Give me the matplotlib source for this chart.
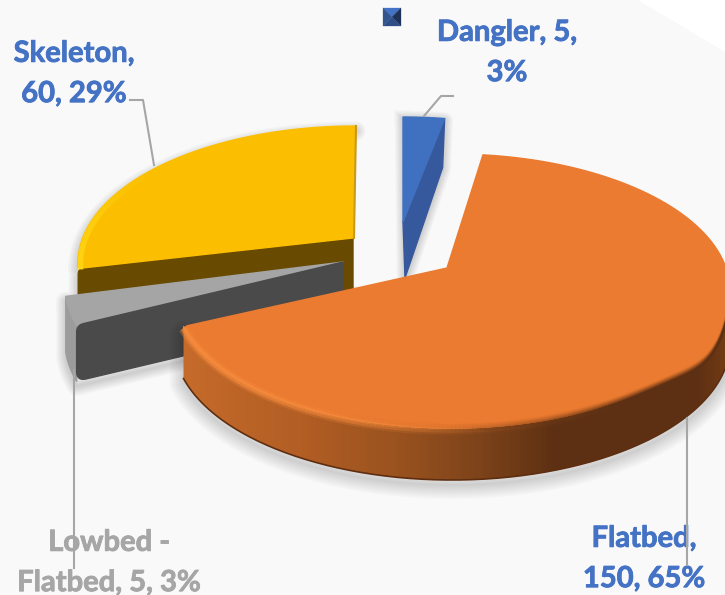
"""Exploded 3D-look pie chart of trailer types."""

import matplotlib

matplotlib.use("Agg")
import matplotlib.patheffects as pe
import matplotlib.pyplot as plt
import numpy as np
from matplotlib.collections import LineCollection
from matplotlib.colors import LinearSegmentedColormap, to_rgb
from matplotlib.patches import Polygon

CATEGORIES = ["Dangler", "Flatbed", "Lowbed - Flatbed", "Skeleton"]
VALUES = [5, 150, 5, 60]
SHARES = [3, 65, 3, 29]
LABEL_TEMPLATES = [
    "Dangler, {v},\n{p}%",
    "Flatbed,\n{v}, {p}%",
    "Lowbed -\nFlatbed, {v}, {p}%",
    "Skeleton,\n{v}, {p}%",
]

BLUE = "#4472c4"
GREY = "#a6a6a6"
BACKGROUND = "#f9f9f9"

# everything below is laid out in picture pixels
RX, RY = 278, 137
THICK = 52
TILT = 0.08j
CENTERS = [(403, 254), (452, 291), (343, 286), (356, 263)]
APEX_SHIFT = [(0, -32), (-5, -23), (0, -24), (-3, -25)]
TRIM = [(0, -0.7), (-3.3, 1.5), (0, 1.0), (3, 0)]  # degrees taken off or added at slice ends
LABEL_POS = [(507, 53), (644, 559), (109, 563), (74, 74)]
LABEL_COLORS = [BLUE, BLUE, GREY, BLUE]
LEADERS = [
    [(424, 116), (441, 96), (453, 96)],
    [(687, 418), (687, 565)],
    [(74, 370), (74, 568)],
    [(130, 100), (143, 100), (154, 165)],
]


def rim(center, theta_deg):
    """Points of the tilted circle for clockwise angles measured from north."""
    z = np.exp(1j * np.radians(90 - np.asarray(theta_deg, dtype=float)))
    w = (z + TILT) / (1 + np.conj(TILT) * z)
    return np.column_stack([center[0] + RX * w.real, center[1] - RY * w.imag])


def rounded(pts, idx, r):
    """Replace vertex idx of a closed polygon with a small curve of radius r."""
    pts = np.asarray(pts, dtype=float)
    n = len(pts)
    p, a, b = pts[idx], pts[(idx - 1) % n], pts[(idx + 1) % n]
    u = p + (a - p) / np.linalg.norm(a - p) * r
    v = p + (b - p) / np.linalg.norm(b - p) * r
    t = np.linspace(0, 1, 10)[:, None]
    curve = (1 - t) ** 2 * u + 2 * t * (1 - t) * p + t**2 * v
    return np.vstack([pts[:idx], curve, pts[idx + 1:]])


def soft_shadow(ax, pts, zorder, dy=5, spread=14):
    pts = np.vstack([pts, pts[:1]]) + [0, dy]
    for lw in np.linspace(spread, 2, 7):
        ax.plot(pts[:, 0], pts[:, 1], color="black", alpha=0.022, lw=lw, zorder=zorder,
                solid_joinstyle="round")


def face(ax, pts, color, zorder, lw=1.0):
    ax.add_patch(Polygon(pts, closed=True, facecolor=color, edgecolor=color, lw=lw,
                         joinstyle="round", zorder=zorder))


def rim_band(ax, pts, color, alphas, lw, zorder):
    segs = np.stack([pts[:-1], pts[1:]], axis=1)
    rgba = np.tile((*to_rgb(color), 1.0), (len(segs), 1))
    rgba[:, 3] = np.interp(np.linspace(0, 1, len(segs)), np.linspace(0, 1, len(alphas)), alphas)
    ax.add_collection(LineCollection(segs, colors=rgba, linewidths=lw, zorder=zorder,
                                     capstyle="butt"))


def main():
    fig = plt.figure(figsize=(7.25, 5.95), dpi=100, facecolor=BACKGROUND)
    ax = fig.add_axes([0, 0, 1, 1])
    ax.set_facecolor(BACKGROUND)
    plt.rcParams["font.family"] = ["Lato", "DejaVu Sans"]

    edges = np.cumsum([0] + SHARES) / sum(SHARES) * 360.0
    arcs = [np.linspace(edges[i] + TRIM[i][0], edges[i + 1] + TRIM[i][1], 120) for i in range(len(SHARES))]
    apexes = [np.add(CENTERS[i], APEX_SHIFT[i]) for i in range(len(SHARES))]
    drop = np.array([0, THICK])

    ax.add_patch(Polygon([(638, 0), (725, 52), (725, 0)], facecolor="white", edgecolor="none", zorder=0))

    # Skeleton
    arc = rim(CENTERS[3], arcs[3])
    top = rounded(np.vstack([apexes[3], arc]), 1, 7)
    cut = rounded(np.array([apexes[3], arc[0], arc[0] + drop, apexes[3] + drop]), 1, 6)
    soft_shadow(ax, np.vstack([top[1:], cut[2:]]), 1)
    face(ax, cut, "#684a00", 2, lw=1)
    face(ax, top, "#fbbe00", 3)
    rim_band(ax, arc + [2.5, 1], "#ffd414", [1, 0.8, 0.3, 0, 0, 0, 0], 4, 4)
    ax.plot([arc[-1, 0], apexes[3][0] + 1], [arc[-1, 1], apexes[3][1]], color="#c9991a", lw=1.5, zorder=4)

    # Lowbed
    arc = rim(CENTERS[2], arcs[2])
    top = np.vstack([apexes[2], arc])
    low_drop = drop + [0, 4]
    side = np.array([apexes[2], arc[0], arc[0] + low_drop, apexes[2] + low_drop])
    side = rounded(rounded(side, 2, 10), 1, 7)
    bevel = rounded(np.vstack([arc, arc[::-1] + low_drop]), len(arc) - 1, 8)
    soft_shadow(ax, np.vstack([arc, arc[::-1] + low_drop, apexes[2] + low_drop]), 5)
    face(ax, bevel, "#9c9c9c", 6, lw=1)
    face(ax, top, "#a5a5a5", 7, lw=1)
    face(ax, side, "#4a4a4a", 8, lw=1)

    # Dangler
    arc = rim(CENTERS[0], arcs[0])
    top = np.vstack([apexes[0], arc])
    cut = np.array([apexes[0], arc[-1], arc[-1] + drop - [2, 3], apexes[0] + drop + [2, 4]])
    soft_shadow(ax, np.vstack([top[1:], cut[2:]]), 5, dy=2, spread=12)
    face(ax, cut, "#36589c", 6)
    face(ax, top, "#4070c0", 7)

    # Flatbed
    arc = rim(CENTERS[1], arcs[1])
    top = rounded(np.vstack([apexes[1], arc]), len(arc), 5)
    thetas = np.linspace(100, arcs[1][-1], 200)
    front = rim(CENTERS[1], thetas)
    wall = np.vstack([front, front[::-1] + drop])
    wall = rounded(wall, 199, 5)
    soft_shadow(ax, wall, 9, dy=5, spread=20)
    wall_patch = Polygon(wall, closed=True, facecolor="none", edgecolor="none", zorder=10)
    ax.add_patch(wall_patch)
    stops = [(180, "#c66b2b"), (300, "#b25e24"), (400, "#99521f"), (480, "#7d431a"),
             (552, "#5f3113"), (700, "#5e3013"), (725, "#703a15")]
    cmap = LinearSegmentedColormap.from_list("wall", [((x - 180) / 545, c) for x, c in stops])
    im = ax.imshow(np.linspace(0, 1, 545)[None, :], extent=(180, 725, 500, 250), cmap=cmap,
                   aspect="auto", zorder=10)
    im.set_clip_path(wall_patch)
    ax.plot(front[:, 0], front[:, 1] + THICK, color="#5e2e10", lw=1.2, zorder=11)
    face(ax, top, "#eb7b30", 12, lw=1)

    # the top face bulges over the wall at lower right, its edge there is blurred
    lip = front + np.column_stack([np.zeros(200), 13 * np.exp(-(((thetas - 120) / 14) ** 2))])
    face(ax, np.vstack([front, lip[::-1]]), "#eb7b30", 12, lw=1)
    back = lip[::-1]
    ramp = np.array([0, 0, 0, 0.1, 0.5, 1, 1, 1])
    for off, strength in zip([2, 1, 0, -1, -2, -3, -4], [0.9, 0.7, 0.5, 0.35, 0.22, 0.12, 0.06]):
        rim_band(ax, back + [0, off], "#5e3013", ramp * strength, 1.5, 13)
    for off, lw, strength in [(2, 7, 0.35), (2, 4, 0.7), (1, 2, 0.8)]:
        rim_band(ax, back + [0, off], "#f68b3d", np.array([1, 0.9, 0.6, 0.1, 0, 0, 0]) * strength, lw, 13)

    # legend key left over next to the data label
    mid = (392, 17)
    box = [(383, 8), (401, 8), (401, 26), (383, 26)]
    for i, shade in enumerate(["#4472c4", "#1f3157", "#2f4d86", "#33558f"]):
        face(ax, [box[i], box[(i + 1) % 4], mid], shade, 14, lw=0.2)

    for path in LEADERS:
        xs, ys = zip(*path)
        ax.plot(xs, ys, color=GREY, lw=1.5, zorder=16)

    for tmpl, v, p, pos, color in zip(LABEL_TEMPLATES, VALUES, SHARES, LABEL_POS, LABEL_COLORS):
        ax.text(*pos, tmpl.format(v=v, p=p), color=color, fontsize=21, fontweight="bold",
                ha="center", va="center", linespacing=1.68, zorder=15,
                path_effects=[pe.withStroke(linewidth=0.6, foreground=color)])

    ax.set_xlim(0, 725)
    ax.set_ylim(595, 0)
    ax.axis("off")
    fig.savefig("out.png", dpi=100, facecolor=BACKGROUND)
    plt.close(fig)


if __name__ == "__main__":
    main()
